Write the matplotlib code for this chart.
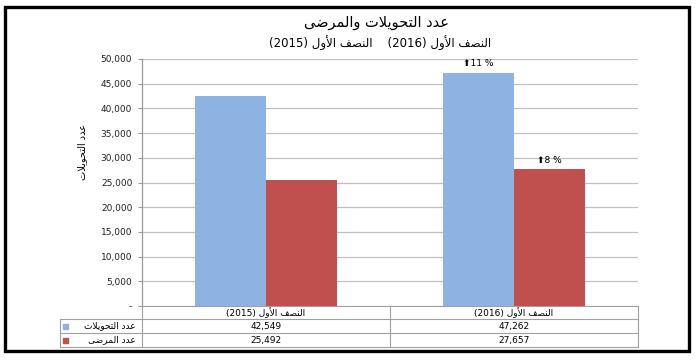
import matplotlib
matplotlib.use('Agg')
import matplotlib.pyplot as plt
from matplotlib.lines import Line2D
from matplotlib.patches import Rectangle
import matplotlib.transforms as mtrans
import numpy as np

# ---------------- data ----------------
cat_words = ["النصف الأول", "النصف الأول"]
cat_years = ["(2015)", "(2016)"]
series_names = ["عدد التحويلات", "عدد المرضى"]
transfers = [42549, 47262]
patients = [25492, 27657]
growth_transfers = ["", "11 %"]
growth_patients = ["", "8 %"]
title_text = "عدد التحويلات والمرضى"
ylabel_text = "عدد التحويلات"
yticks = list(range(0, 50001, 5000))

BLUE = "#8DB3E2"
RED = "#C0504D"

# ---------------- simple Arabic shaping ----------------
FORMS = {
    '\u0627': ('\uFE8D', '\uFE8E', None, None),
    '\u0623': ('\uFE83', '\uFE84', None, None),
    '\u0625': ('\uFE87', '\uFE88', None, None),
    '\u0622': ('\uFE81', '\uFE82', None, None),
    '\u0628': ('\uFE8F', '\uFE90', '\uFE91', '\uFE92'),
    '\u0629': ('\uFE93', '\uFE94', None, None),
    '\u062A': ('\uFE95', '\uFE96', '\uFE97', '\uFE98'),
    '\u062B': ('\uFE99', '\uFE9A', '\uFE9B', '\uFE9C'),
    '\u062C': ('\uFE9D', '\uFE9E', '\uFE9F', '\uFEA0'),
    '\u062D': ('\uFEA1', '\uFEA2', '\uFEA3', '\uFEA4'),
    '\u062E': ('\uFEA5', '\uFEA6', '\uFEA7', '\uFEA8'),
    '\u062F': ('\uFEA9', '\uFEAA', None, None),
    '\u0630': ('\uFEAB', '\uFEAC', None, None),
    '\u0631': ('\uFEAD', '\uFEAE', None, None),
    '\u0632': ('\uFEAF', '\uFEB0', None, None),
    '\u0633': ('\uFEB1', '\uFEB2', '\uFEB3', '\uFEB4'),
    '\u0634': ('\uFEB5', '\uFEB6', '\uFEB7', '\uFEB8'),
    '\u0635': ('\uFEB9', '\uFEBA', '\uFEBB', '\uFEBC'),
    '\u0636': ('\uFEBD', '\uFEBE', '\uFEBF', '\uFEC0'),
    '\u0637': ('\uFEC1', '\uFEC2', '\uFEC3', '\uFEC4'),
    '\u0638': ('\uFEC5', '\uFEC6', '\uFEC7', '\uFEC8'),
    '\u0639': ('\uFEC9', '\uFECA', '\uFECB', '\uFECC'),
    '\u063A': ('\uFECD', '\uFECE', '\uFECF', '\uFED0'),
    '\u0641': ('\uFED1', '\uFED2', '\uFED3', '\uFED4'),
    '\u0642': ('\uFED5', '\uFED6', '\uFED7', '\uFED8'),
    '\u0643': ('\uFED9', '\uFEDA', '\uFEDB', '\uFEDC'),
    '\u0644': ('\uFEDD', '\uFEDE', '\uFEDF', '\uFEE0'),
    '\u0645': ('\uFEE1', '\uFEE2', '\uFEE3', '\uFEE4'),
    '\u0646': ('\uFEE5', '\uFEE6', '\uFEE7', '\uFEE8'),
    '\u0647': ('\uFEE9', '\uFEEA', '\uFEEB', '\uFEEC'),
    '\u0648': ('\uFEED', '\uFEEE', None, None),
    '\u0649': ('\uFEEF', '\uFEF0', None, None),
    '\u064A': ('\uFEF1', '\uFEF2', '\uFEF3', '\uFEF4'),
}
LAM_ALEF = {
    '\u0627': ('\uFEFB', '\uFEFC'),
    '\u0623': ('\uFEF7', '\uFEF8'),
    '\u0625': ('\uFEF9', '\uFEFA'),
    '\u0622': ('\uFEF5', '\uFEF6'),
}


def _joins_next(tok):
    return tok is not None and tok[0] == 'C' and tok[1] in FORMS and FORMS[tok[1]][2] is not None


def shape(text):
    chars = list(text)
    tokens = []
    i = 0
    while i < len(chars):
        c = chars[i]
        if c == '\u0644' and i + 1 < len(chars) and chars[i + 1] in LAM_ALEF:
            tokens.append(('LA', chars[i + 1]))
            i += 2
        else:
            tokens.append(('C', c))
            i += 1
    out = []
    for k, (t, c) in enumerate(tokens):
        prev = tokens[k - 1] if k > 0 else None
        nxt = tokens[k + 1] if k + 1 < len(tokens) else None
        pj = _joins_next(prev)
        if t == 'LA':
            iso, fin = LAM_ALEF[c]
            out.append(fin if pj else iso)
            continue
        if c not in FORMS:
            out.append(c)
            continue
        iso, fin, ini, med = FORMS[c]
        next_letter = nxt is not None and (nxt[0] == 'LA' or nxt[1] in FORMS)
        cn = ini is not None and next_letter
        if pj and cn:
            out.append(med)
        elif pj:
            out.append(fin)
        elif cn:
            out.append(ini)
        else:
            out.append(iso)
    return ''.join(out)


def ar(text):
    return shape(text)[::-1]


def cat_label(i):
    # RTL: Arabic words on the right, year in parentheses on the left
    return cat_years[i] + " " + ar(cat_words[i])


# ---------------- figure ----------------
W, H = 700, 360
fig = plt.figure(figsize=(W / 100, H / 100), dpi=100)
plt.rcParams['font.family'] = ['DejaVu Sans']


def fx(px):
    return px / W


def fy(py):
    return 1 - py / H


ax_l, ax_r, ax_t, ax_b = 142, 638, 59, 306
ax = fig.add_axes([fx(ax_l), fy(ax_b), fx(ax_r - ax_l), (ax_b - ax_t) / H])

x = np.arange(len(cat_words))
bw = 0.285
ax.bar(x - bw / 2, transfers, width=bw, color=BLUE, zorder=3)
ax.bar(x + bw / 2, patients, width=bw, color=RED, zorder=3)

ax.set_xlim(-0.5, len(cat_words) - 0.5)
ax.set_ylim(0, 50000)
ax.set_yticks(yticks)
ax.set_yticklabels(["-" if v == 0 else f"{v:,}" for v in yticks], fontsize=6.5, color="#222222")
ax.tick_params(axis='y', length=3, color="#999999", pad=4)
ax.set_xticks([])
ax.grid(axis='y', color="#C0C0C0", lw=0.9, zorder=0)
for s in ['top', 'right', 'bottom']:
    ax.spines[s].set_visible(False)
ax.spines['left'].set_color("#999999")
ax.spines['left'].set_linewidth(0.9)

# growth annotations
for i in range(len(x)):
    if growth_transfers[i]:
        ax.annotate("⬆" + growth_transfers[i], (x[i] - bw / 2, transfers[i]),
                    xytext=(0, 3), textcoords='offset points', ha='center', va='bottom',
                    fontsize=6.5, color="black")
    if growth_patients[i]:
        ax.annotate("⬆" + growth_patients[i], (x[i] + bw / 2, patients[i]),
                    xytext=(0, 3), textcoords='offset points', ha='center', va='bottom',
                    fontsize=6.5, color="black")

# titles
fig.text(fx(376), fy(22), ar(title_text), ha='center', va='center', fontsize=10.5)
subtitle = cat_label(0) + "    " + cat_label(1)
fig.text(fx(380), fy(43), subtitle, ha='center', va='center', fontsize=8.5)
fig.text(fx(82), fy(152), ar(ylabel_text), ha='center', va='center', rotation=90, fontsize=7)

# ---------------- data table ----------------
gc = "#A0A0A0"
row_y = [306, 319, 333, 347]
tbl_left = 60
mid = (ax_l + ax_r) / 2


def hline(x0, x1, y):
    fig.add_artist(Line2D([fx(x0), fx(x1)], [fy(y), fy(y)], color=gc, lw=0.8))


def vline(xp, y0, y1):
    fig.add_artist(Line2D([fx(xp), fx(xp)], [fy(y0), fy(y1)], color=gc, lw=0.8))


hline(ax_l, ax_r, row_y[0])
for yy in row_y[1:]:
    hline(tbl_left, ax_r, yy)
vline(tbl_left, row_y[1], row_y[3])
vline(ax_l, row_y[0], row_y[3])
vline(mid, row_y[0], row_y[3])
vline(ax_r, row_y[0], row_y[3])

blend = mtrans.blended_transform_factory(ax.transData, fig.transFigure)
for i in range(len(x)):
    ax.text(x[i], fy((row_y[0] + row_y[1]) / 2), cat_label(i), transform=blend,
            ha='center', va='center', fontsize=6.5, clip_on=False)
    ax.text(x[i], fy((row_y[1] + row_y[2]) / 2), f"{transfers[i]:,}", transform=blend,
            ha='center', va='center', fontsize=6.5, clip_on=False)
    ax.text(x[i], fy((row_y[2] + row_y[3]) / 2), f"{patients[i]:,}", transform=blend,
            ha='center', va='center', fontsize=6.5, clip_on=False)

for r, (name, col) in enumerate(zip(series_names, [BLUE, RED])):
    yc = (row_y[r + 1] + row_y[r + 2]) / 2
    fig.add_artist(Rectangle((fx(63), fy(yc + 2.5)), fx(5), 5 / H, color=col))
    fig.text(fx(136), fy(yc), ar(name), ha='right', va='center', fontsize=6.5)

# outer frame
fig.add_artist(Rectangle((fx(4.5), fy(350.5)), fx(684.5), 344 / H, fill=False,
                         edgecolor='black', lw=2.4))

fig.savefig("out.png", dpi=100)
